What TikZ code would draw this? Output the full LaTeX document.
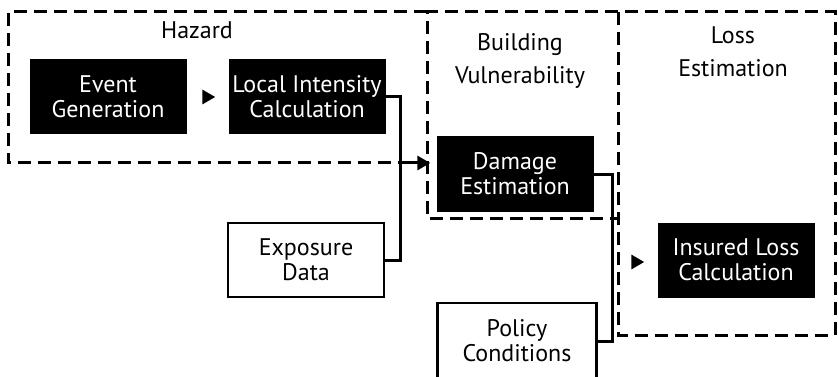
\documentclass[tikz,border=0pt]{standalone}
\usepackage{fontspec}
\setmainfont{PT Sans}
\usepackage{tikz}
\usetikzlibrary{arrows.meta, positioning}

\begin{document}
\begin{tikzpicture}[x=1pt, y=-1pt,
    >={Triangle[length=13pt, width=14pt]},
    every node/.style={font=\fontsize{24}{25}\selectfont, align=center},
    stagelabel/.style={font=\fontsize{24}{33}\selectfont},
    blackbox/.style={fill=black, text=white, minimum width=157pt, minimum height=75pt, inner sep=0pt},
    whitebox/.style={draw=black, line width=2.8pt, fill=white, minimum width=156pt, minimum height=74pt, inner sep=0pt},
    stage/.style={draw=black, dash pattern=on 13pt off 7pt, line width=3pt},
    link/.style={draw=black, line width=3pt},
    tiponly/.style={draw=white, line width=3pt, -{Triangle[length=13pt, width=14pt, black]}}]

    \useasboundingbox (0,0) rectangle (838,377);

    % dashed stages
    \draw[stage] (427,12) -- (8,12) -- (8,163) -- (400,163);
    \draw[stage] (618,12) -- (427,12) -- (427,218) -- (618,218);
    \draw[stage] (618,12) rectangle (835,335);

    \node[stagelabel] (Haz) at (197,30) {Hazard};
    \node[stagelabel] (Vul) at (520,61) {Building\\Vulnerability};
    \node[stagelabel] (Los) at (733,52) {Loss\\Estimation};

    \node[blackbox] (Ev) at (108,97) {Event\\Generation};
    \node[blackbox] (LI) at (307,97) {Local Intensity\\Calculation};
    \node[blackbox] (Dmg) at (515,174) {Damage\\Estimation};
    \node[blackbox] (Ins) at (736,260) {Insured Loss\\Calculation};

    \node[whitebox] (Exp) at (306,260) {Exposure\\Data};
    \node[whitebox, minimum width=159pt, minimum height=76pt] (Pol) at (517,341) {Policy\\Conditions};

    \coordinate (jA) at (400,163);
    \coordinate (jB) at (612,262);

    \draw[tiponly, shorten >=13pt] (Ev) -- (LI);

    \draw[link] (LI.east) -| (jA);
    \draw[link] (Exp.east) -| (jA);
    \draw[link, ->, shorten >=6pt] (jA) -- (Dmg.west |- jA);

    \draw[link] (Dmg.east) -| (jB);
    \draw[link] (Pol.east) -| (jB);
    \draw[tiponly, shorten <=10pt, shorten >=13pt] (jB) -- (Ins.west |- jB);

\end{tikzpicture}
\end{document}
